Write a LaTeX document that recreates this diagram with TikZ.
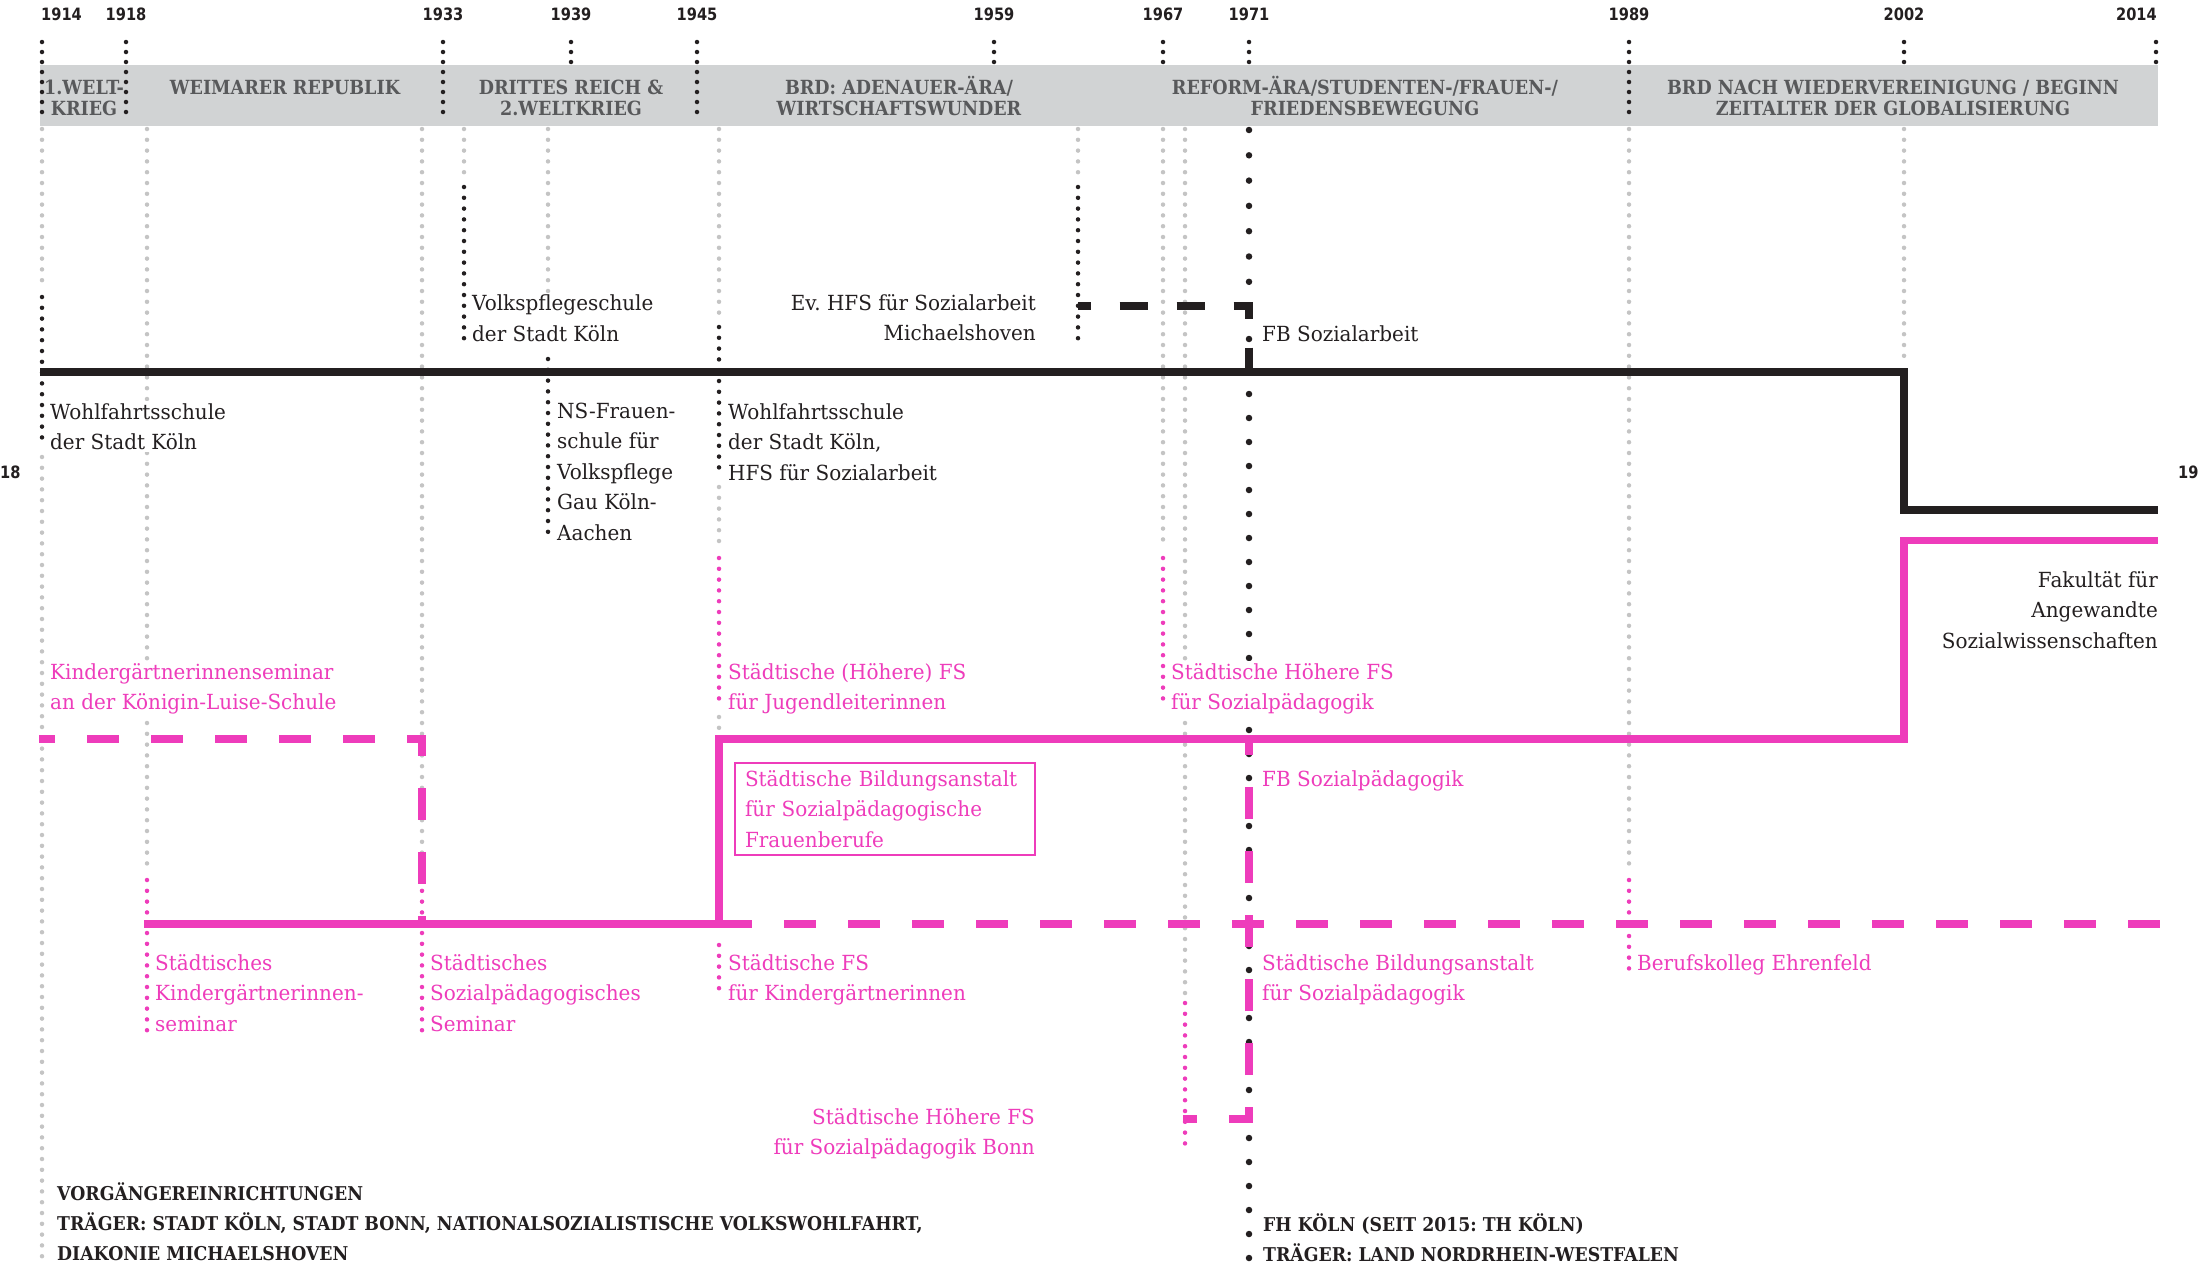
\documentclass[tikz,border=0pt]{standalone}
\usepackage{fontspec}
\setmainfont{DejaVu Serif}[FakeStretch=0.96]
\newfontfamily\headserif{DejaVu Serif}[FakeStretch=0.91]
\newfontfamily\bandserif{DejaVu Serif}[FakeStretch=0.9]
\newfontfamily\yearsans{DejaVu Sans}[FakeStretch=0.86]
\usetikzlibrary{positioning}
\frenchspacing

\definecolor{ink}{RGB}{35,31,32}
\definecolor{pinkc}{RGB}{238,60,187}
\definecolor{dotgray}{RGB}{196,196,196}
\definecolor{bandgray}{RGB}{209,211,212}
\definecolor{bandink}{RGB}{88,89,91}

\newcommand{\txtfont}{\fontsize{20.8}{30.5}\selectfont}
\newcommand{\headfont}{\headserif\fontsize{19}{30}\selectfont\bfseries}
\newcommand{\bandfont}{\bandserif\fontsize{19.5}{21}\selectfont\bfseries}
\newcommand{\yrfont}{\yearsans\fontsize{17}{17}\selectfont\bfseries}

\begin{document}
\begin{tikzpicture}[x=1pt,y=-1pt,
  lbl/.style={font=\txtfont,text=ink,align=left,anchor=base west,fill=white,
    inner xsep=1pt,inner ysep=2pt},
  lblr/.style={lbl,align=right,anchor=base east},
  plbl/.style={lbl,text=pinkc},
  plblr/.style={lblr,text=pinkc},
  boldlbl/.style={lbl,font=\headfont},
  pbox/.style={draw=pinkc,line width=2pt,text=pinkc,font=\txtfont,align=left,
    anchor=north west,text width=280pt,minimum height=92pt,inner xsep=10pt},
  yearlbl/.style={font=\yrfont,text=ink,inner sep=0pt,anchor=base},
  bandlbl/.style={font=\bandfont,text=bandink,align=center,inner sep=0pt,anchor=base},
  gdots/.style={draw=dotgray,line width=4.5pt,line cap=round,dash pattern=on 0pt off 10.8pt},
  bdots/.style={gdots,draw=ink},
  pdots/.style={gdots,draw=pinkc},
  hdots/.style={bdots,dash pattern=on 0pt off 10pt},
  bigdots/.style={draw=ink,line width=6.5pt,line cap=round,dash pattern=on 0pt off 25.3pt},
  mainline/.style={draw=ink,line width=8pt},
  pinkline/.style={draw=pinkc,line width=7.5pt},
  pinkdash/.style={pinkline,dash pattern=on 32pt off 32pt},
  blackdash/.style={mainline,dash pattern=on 28pt off 29pt}]
  \useasboundingbox (0,0) rectangle (2199,1269);

  % epochs
  \fill[bandgray] (40,64.5) rectangle (2158,126);
  \foreach \x in {42,126,443,697,1629} \draw[hdots] (\x,42) -- (\x,112.5);
  \foreach \x in {571,994,1163,1249,1904,2156} \draw[hdots] (\x,42) -- (\x,62.5);

  \node[yearlbl,anchor=base west] (yr1914) at (41,20) {1914};
  \foreach \x/\yr in {126/1918,443/1933,571/1939,697/1945,994/1959,1163/1967,
      1249/1971,1629/1989,1904/2002}
    \node[yearlbl] (yr\yr) at (\x,20) {\yr};
  \node[yearlbl,anchor=base east] (yr2014) at (2157,20) {2014};

  % (base anchor of a multi-line node = last line)
  \node[bandlbl] (ep1914) at (84,115) {1.WELT-\\KRIEG};
  \node[bandlbl] (ep1918) at (285,94) {WEIMARER REPUBLIK};
  \node[bandlbl] (ep1933) at (571,115) {DRITTES REICH \&\\2.WELTKRIEG};
  \node[bandlbl] (ep1945) at (899,115) {BRD: ADENAUER-ÄRA/\\WIRTSCHAFTSWUNDER};
  \node[bandlbl] (ep1967) at (1365,115) {REFORM-ÄRA/STUDENTEN-/FRAUEN-/\\FRIEDENSBEWEGUNG};
  \node[bandlbl] (ep1989) at (1893,115) {BRD NACH WIEDERVEREINIGUNG / BEGINN\\ZEITALTER DER GLOBALISIERUNG};

  % year lines
  \foreach \x/\a/\b in {42/129/282,42/457/1258,147/129/867,422/129/870,464/129/177,
      548/129/340,719/129/317,719/487/548,719/717/728,1078/129/177,1163/129/548,
      1185/129/993,1629/129/866,1904/129/358}
    \draw[gdots] (\x,\a) -- (\x,\b+0.5);
  \foreach \x/\a/\b in {42/297/447,464/187/339,548/359/538,719/327/477,1078/187/339}
    \draw[bdots] (\x,\a) -- (\x,\b+0.5);
  \foreach \x/\a/\b in {147/880/913,147/933/1030,422/880/913,422/933/1030,719/558/707,
      719/945/998,1163/558/707,1185/1003/1153,1629/880/913,1629/936/975}
    \draw[pdots] (\x,\a) -- (\x,\b+0.5);
  \draw[bigdots] (1249,130) -- (1249,282.5);
  \fill[ink] (1249,339) circle (3.25);
  \draw[bigdots,dash pattern=on 0pt off 24pt] (1249,394) -- (1249,1258.5);

  % labels
  \node[lbl] (wfs1914) at (49,449.5) {Wohlfahrtsschule\\der Stadt Köln};
  \node[lbl] (vps1934) at (471,341) {Volkspflegeschule\\der Stadt Köln};
  \node[lbl] (nsf1938) at (556,540) {NS-Frauen-\\schule für\\Volkspflege\\Gau Köln-\\Aachen};
  \node[lbl] (wfs1946) at (727,480) {Wohlfahrtsschule\\der Stadt Köln,\\HFS für Sozialarbeit};
  \node[lblr] (evhfs1963) at (1037,340.5) {Ev. HFS für Sozialarbeit\\Michaelshoven};
  \node[lbl] (fbsa1971) at (1261,341) {FB Sozialarbeit};
  \node[lblr] (fak2002) at (2159,648) {Fakultät für\\Angewandte\\Sozialwissenschaften};
  \node[plbl] (kgs1914) at (49,709.5) {Kindergärtnerinnenseminar\\an der Königin-Luise-Schule};
  \node[plbl] (jgl1946) at (727,709.5) {Städtische (Höhere) FS\\für Jugendleiterinnen};
  \node[plbl] (hfs1967) at (1170,709.5) {Städtische Höhere FS\\für Sozialpädagogik};
  \node[plbl] (fbsp1971) at (1261,786) {FB Sozialpädagogik};
  \node[pbox] (sbf1946) at (734,762) {Städtische Bildungsanstalt\\für Sozialpädagogische\\Frauenberufe};
  \node[plbl] (kgs1919) at (154,1031) {Städtisches\\Kindergärtnerinnen-\\seminar};
  \node[plbl] (sps1932) at (429,1031) {Städtisches\\Sozialpädagogisches\\Seminar};
  \node[plbl] (fsk1946) at (727,1000.5) {Städtische FS\\für Kindergärtnerinnen};
  \node[plbl] (sba1971) at (1261,1000.5) {Städtische Bildungsanstalt\\für Sozialpädagogik};
  \node[plbl] (bke1989) at (1636,970) {Berufskolleg Ehrenfeld};
  \node[plblr] (bonn1968) at (1036,1154.5) {Städtische Höhere FS\\für Sozialpädagogik Bonn};
  \node[boldlbl] (vorg) at (56,1260) {VORGÄNGEREINRICHTUNGEN\\TRÄGER: STADT KÖLN, STADT BONN, NATIONALSOZIALISTISCHE VOLKSWOHLFAHRT,\\DIAKONIE MICHAELSHOVEN};
  \node[boldlbl] (fhk) at (1262,1261) {FH KÖLN (SEIT 2015: TH KÖLN)\\TRÄGER: LAND NORDRHEIN-WESTFALEN};
  \node[yearlbl,anchor=base west] (pg18) at (0,478) {18};
  \node[yearlbl,anchor=base west] (pg19) at (2178,478) {19};

  % lineages
  \draw[mainline] (40,372) -- (1904,372) -- (1904,509.5) -- (2158,509.5);
  \draw[pinkline] (144,924) -- (719,924) -- (719,739) -- (1904,739) -- (1904,540.5) -- (2158,540.5);
  \draw[pinkdash,dash phase=16pt] (39,739) -- (422,739) -- (422,924);
  \draw[pinkdash] (720,924) -- (2160,924);
  \draw[pinkdash,dash phase=18pt] (1183,1119) -- (1249,1119) -- (1249,739);
  \draw[blackdash,dash phase=15.5pt] (1078,306) -- (1249,306) -- (1249,372);
\end{tikzpicture}
\end{document}
